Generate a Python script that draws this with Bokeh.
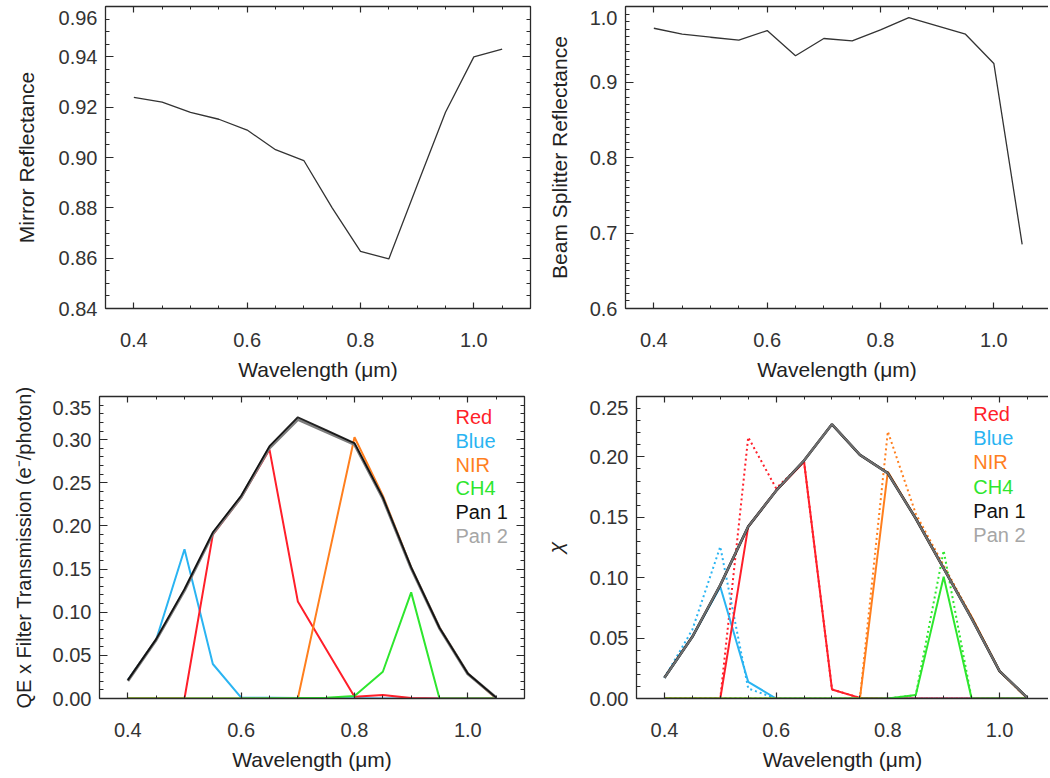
from bokeh.plotting import figure
from bokeh.models import (Range1d, LinearAxis, SingleIntervalTicker, FixedTicker,
                          PrintfTickFormatter, Label)
from bokeh.layouts import column, row
from bokeh.embed import file_html
from bokeh.resources import INLINE

# ---------------- data ----------------
wavelength = [0.40, 0.45, 0.50, 0.55, 0.60, 0.65, 0.70, 0.75, 0.80, 0.85, 0.90, 0.95, 1.00, 1.05]

mirror_reflectance = [0.9239, 0.9220, 0.9179, 0.9152, 0.9109, 0.9031, 0.8988, 0.8800,
                      0.8627, 0.8597, 0.8890, 0.9180, 0.9400, 0.9431]
beam_splitter_reflectance = [0.9712, 0.9633, 0.9593, 0.9554, 0.9681, 0.9347, 0.9576, 0.9545,
                             0.9690, 0.9853, 0.9743, 0.9633, 0.9246, 0.6850]

qe_red = [0, 0, 0, 0.190, 0.233, 0.2885, 0.1125, 0.057, 0.002, 0.004, 0.0005, 0, 0, 0]
qe_blue = [0.0213, 0.068, 0.173, 0.040, 0.001, 0.001, 0.0005, 0.0003, 0.0002, 0, 0, 0, 0, 0]
qe_nir = [0, 0, 0, 0, 0, 0, 0, 0.152, 0.3028, 0.235, 0.152, 0.0824, 0.029, 0]
qe_ch4 = [0, 0, 0, 0, 0, 0.0003, 0.0005, 0.001, 0.003, 0.031, 0.123, 0, 0, 0]
qe_pan1 = [0.0213, 0.0688, 0.1268, 0.1926, 0.235, 0.2924, 0.326, 0.311, 0.296, 0.233, 0.152, 0.082, 0.029, 0.001]
qe_pan2 = [0.0205, 0.0680, 0.1255, 0.1910, 0.2335, 0.2905, 0.3235, 0.309, 0.2945, 0.232, 0.151, 0.0815, 0.0285, 0.001]

chi_red = [0, 0, 0, 0.1423, 0.172, 0.196, 0.0075, 0.0005, 0, 0, 0, 0, 0, 0]
chi_red_dot = [0, 0, 0, 0.2163, 0.174, 0.196, 0.0075, 0.0005, 0, 0, 0, 0, 0, 0]
chi_blue = [0.0171, 0.0511, 0.0925, 0.0138, 0, 0, 0, 0, 0, 0, 0, 0, 0, 0]
chi_blue_dot = [0.0171, 0.057, 0.1257, 0.0083, 0, 0, 0, 0, 0, 0, 0, 0, 0, 0]
chi_nir = [0, 0, 0, 0, 0, 0, 0, 0, 0.1878, 0.149, 0.1077, 0.0677, 0.0227, 0]
chi_nir_dot = [0, 0, 0, 0, 0, 0, 0, 0, 0.221, 0.153, 0.110, 0.0677, 0.0227, 0]
chi_ch4 = [0, 0, 0, 0, 0, 0, 0, 0, 0, 0.0028, 0.1008, 0, 0, 0]
chi_ch4_dot = [0, 0, 0, 0, 0, 0, 0, 0, 0, 0.0028, 0.1224, 0, 0, 0]
chi_pan1 = [0.0171, 0.0511, 0.0939, 0.1423, 0.172, 0.197, 0.227, 0.2017, 0.1865, 0.149, 0.1077, 0.0663, 0.0227, 0.0005]
chi_pan2 = [0.0171, 0.0511, 0.0939, 0.1423, 0.172, 0.197, 0.227, 0.2017, 0.1865, 0.149, 0.1077, 0.0663, 0.0227, 0.0005]

series_names = ["Red", "Blue", "NIR", "CH4", "Pan 1", "Pan 2"]

# ---------------- style ----------------
FONT = "Liberation Sans"
INK = "#2a2a2a"
TXT = "#333333"
C_RED = "#ff1f2a"
C_BLUE = "#2ab4f2"
C_NIR = "#ff7f1e"
C_CH4 = "#2ee62e"
C_PAN1 = "#000000"
C_PAN2 = "#7c7c7c"
legend_colors = [C_RED, C_BLUE, C_NIR, C_CH4, "#111111", "#a6a6a6"]

PX_PER_X = 425 / 0.75  # px per micron on every panel


def base_axis(ax, major_len, minor_len):
    ax.major_tick_in = major_len
    ax.major_tick_out = 0
    ax.minor_tick_in = minor_len
    ax.minor_tick_out = 0
    ax.axis_line_color = INK
    ax.axis_line_width = 1.3
    ax.major_tick_line_color = INK
    ax.minor_tick_line_color = INK
    ax.major_tick_line_width = 1.2
    ax.minor_tick_line_width = 1.0


def no_labels(ax):
    ax.major_label_text_font_size = "0px"
    ax.major_label_text_color = None
    ax.major_label_standoff = 0


def with_labels(ax, fmt, standoff, title, title_size, title_standoff):
    ax.formatter = PrintfTickFormatter(format=fmt)
    ax.major_label_text_font = FONT
    ax.major_label_text_font_size = "20px"
    ax.major_label_text_color = TXT
    ax.major_label_standoff = standoff
    ax.axis_label = title
    ax.axis_label_text_font = FONT
    ax.axis_label_text_font_size = title_size
    ax.axis_label_text_font_style = "normal"
    ax.axis_label_text_color = "#222222"
    ax.axis_label_standoff = title_standoff


def make_panel(width, height, bl, br, bt, bb, frame_w, y_lo, y_hi, y_step, y_minor_step, y_fmt,
               ytitle, ytitle_size, ytitle_standoff, right_axis, top_lh):
    x_end = 0.35 + frame_w / PX_PER_X
    p = figure(width=width, height=height, x_range=Range1d(0.35, x_end), y_range=Range1d(y_lo, y_hi),
               x_axis_location=None, y_axis_location=None, toolbar_location=None,
               output_backend="svg", min_border_left=bl, min_border_right=br,
               min_border_top=bt, min_border_bottom=bb)
    p.grid.grid_line_color = None
    p.outline_line_color = None
    p.background_fill_color = "white"
    p.border_fill_color = "white"

    xb = LinearAxis(ticker=SingleIntervalTicker(interval=0.2, num_minor_ticks=4))
    base_axis(xb, 6, 3)
    with_labels(xb, "%.1f", 24, "Wavelength (\u03bcm)", "21px", 8)
    p.add_layout(xb, "below")
    xt = LinearAxis(ticker=SingleIntervalTicker(interval=0.2, num_minor_ticks=4))
    base_axis(xt, 6, 3)
    no_labels(xt)
    p.add_layout(xt, "above")

    n_major = int(round((y_hi - y_lo) / y_step))
    majors = [round(y_lo + i * y_step, 6) for i in range(n_major + 1)]
    n_minor = int(round((y_hi - y_lo) / y_minor_step))
    minors = [round(y_lo + i * y_minor_step, 6) for i in range(n_minor + 1)]

    yl = LinearAxis(ticker=FixedTicker(ticks=majors, minor_ticks=minors))
    base_axis(yl, 8, 4)
    with_labels(yl, y_fmt, 8, ytitle, ytitle_size, ytitle_standoff)
    # the top tick label sits just inside the frame, as in the original figure
    yl.major_label_overrides = {majors[-1]: "\n" + (y_fmt % majors[-1])}
    yl.major_label_text_line_height = top_lh
    p.add_layout(yl, "left")
    if right_axis:
        yr = LinearAxis(ticker=FixedTicker(ticks=majors, minor_ticks=minors))
        base_axis(yr, 8, 4)
        no_labels(yr)
        p.add_layout(yr, "right")
    return p


def add_legend(p, x_px, first_px, step_px, y_hi, frame_h):
    x = 0.35 + x_px / PX_PER_X
    for i, (name, col) in enumerate(zip(series_names, legend_colors)):
        y = y_hi - (first_px + i * step_px) * y_hi / frame_h
        p.add_layout(Label(x=x, y=y, text=name, text_color=col, text_font=FONT,
                           text_font_size="20px", text_baseline="middle", text_align="left"))


# ---- top-left: mirror reflectance ----
p1 = make_panel(540, 385, 105, 10, 6, 77, 425, 0.84, 0.96, 0.02, 0.005, "%.2f",
                "Mirror Reflectance", "21px", 18, True, 0.3)
p1.line(wavelength, mirror_reflectance, line_color="#333333", line_width=1.3)

# ---- top-right: beam splitter reflectance ----
p2 = make_panel(508, 385, 85, 0, 6, 77, 423, 0.6, 1.0, 0.1, 0.01, "%.1f",
                "Beam Splitter Reflectance", "21px", 16, False, 0.3)
p2.line(wavelength, beam_splitter_reflectance, line_color="#333333", line_width=1.3)

# ---- bottom-left: QE x filter transmission ----
p3 = make_panel(540, 391, 99, 16, 11, 78, 425, 0.0, 0.35, 0.05, 0.01, "%.2f",
                "QE x Filter Transmission (e\u207b/photon)", "20px", 15, True, 0.5)
for ys, c in [(qe_blue, C_BLUE), (qe_red, C_RED), (qe_nir, C_NIR), (qe_ch4, C_CH4)]:
    p3.line(wavelength, ys, line_color=c, line_width=2)
p3.line(wavelength, qe_pan2, line_color=C_PAN2, line_width=3)
p3.line(wavelength, qe_pan1, line_color=C_PAN1, line_width=1.8, line_alpha=0.85)
add_legend(p3, 455 - 99, 20.7, 23.7, 0.35, 302)

# ---- bottom-right: chi ----
p4 = make_panel(508, 391, 90, 0, 11, 78, 418, 0.0, 0.25, 0.05, 0.01, "%.2f",
                "\u03c7", "21px", 20, False, 0.5)
p4.yaxis[0].axis_label_text_font_style = "italic"
for ys, c in [(chi_red_dot, C_RED), (chi_blue_dot, C_BLUE), (chi_nir_dot, C_NIR), (chi_ch4_dot, C_CH4)]:
    p4.line(wavelength, ys, line_color=c, line_width=2, line_dash="2 3")
for ys, c in [(chi_blue, C_BLUE), (chi_red, C_RED), (chi_nir, C_NIR), (chi_ch4, C_CH4)]:
    p4.line(wavelength, ys, line_color=c, line_width=2)
p4.line(wavelength, chi_pan1, line_color=C_PAN1, line_width=2.6)
p4.line(wavelength, chi_pan2, line_color="#6e6e6e", line_width=2.2)
add_legend(p4, 971.7 - 630, 17.3, 24.3, 0.25, 302)

layout = column(row(p1, p2), row(p3, p4))

open("out.html", "w").write(file_html(layout, INLINE))
